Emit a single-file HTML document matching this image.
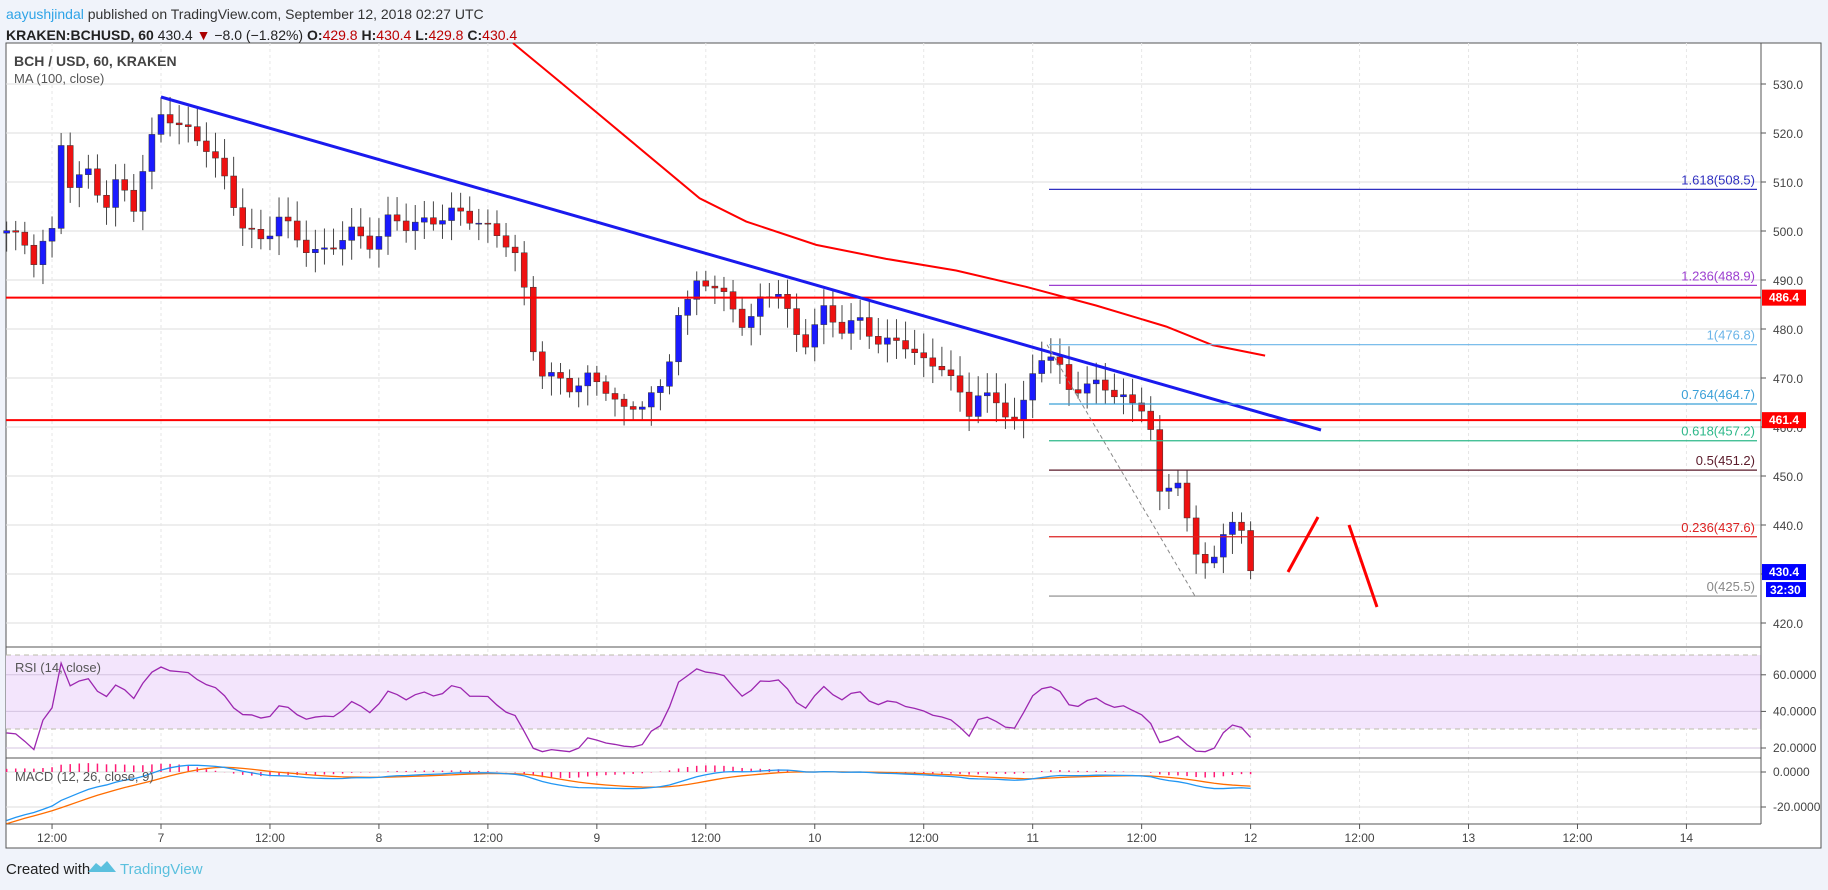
<!DOCTYPE html>
<html><head><meta charset="utf-8"><style>
html,body{margin:0;padding:0;background:#f0f3fa;}
body{width:1828px;height:885px;overflow:hidden;font-family:"Liberation Sans",sans-serif;}
svg text{font-family:"Liberation Sans",sans-serif;}
</style></head><body>
<svg id="s" width="1828" height="885" xmlns="http://www.w3.org/2000/svg">
<rect x="6" y="43" width="1815" height="805" fill="#fff" stroke="#555" stroke-width="1"/>
<text x="6" y="19" font-size="14"><tspan fill="#2fa4e7">aayushjindal</tspan><tspan fill="#333"> published on TradingView.com, September 12, 2018 02:27 UTC</tspan></text>
<text x="6" y="40" font-size="14" fill="#222"><tspan font-weight="bold">KRAKEN:BCHUSD, 60</tspan> 430.4 <tspan fill="#a00">▼</tspan> −8.0 (−1.82%) <tspan font-weight="bold">O:</tspan><tspan fill="#b00">429.8</tspan> <tspan font-weight="bold">H:</tspan><tspan fill="#b00">430.4</tspan> <tspan font-weight="bold">L:</tspan><tspan fill="#b00">429.8</tspan> <tspan font-weight="bold">C:</tspan><tspan fill="#b00">430.4</tspan></text>
<g id="g"></g>
<text x="14" y="66" font-size="14" fill="#444" font-weight="bold">BCH / USD, 60, KRAKEN</text>
<text x="14" y="83" font-size="13" fill="#555">MA (100, close)</text>
<text x="15" y="672" font-size="13" fill="#555">RSI (14, close)</text>
<text x="15" y="781" font-size="13" fill="#555">MACD (12, 26, close, 9)</text>
<text x="6" y="874" font-size="15" fill="#222">Created with</text>
<path d="M88 872 l8 -9 l5 4 l6 -6 l9 11 z" fill="#5bc0de"/>
<text x="120" y="874" font-size="15" fill="#5bc0de">TradingView</text>
</svg>
<script>
const S=document.getElementById('g');let h='';
const L=6,R=1761,T=43,MB=647;
const X=t=>161+(t-24)*9.08;
const Y=p=>84+(530-p)*4.9;
const RY=r=>748-(r-20)*1.83;
const MY=m=>772-m*1.75;
for(let p=420;p<=530;p+=10){h+=`<line x1="${L}" x2="${R}" y1="${Y(p)}" y2="${Y(p)}" stroke="#ddd"/>`;
 h+=`<line x1="${R}" x2="${R+5}" y1="${Y(p)}" y2="${Y(p)}" stroke="#555"/><text x="${R+12}" y="${Y(p)+5}" font-size="12" fill="#444">${p}.0</text>`;}
const labs=['12:00','7','12:00','8','12:00','9','12:00','10','12:00','11','12:00','12','12:00','13','12:00','14'];
labs.forEach((l,i)=>{const x=X(12+i*12);h+=`<line x1="${x}" x2="${x}" y1="${T}" y2="824" stroke="#e6e6e6" stroke-dasharray="3,3"/><line x1="${x}" x2="${x}" y1="824" y2="829" stroke="#555"/><text x="${x}" y="842" font-size="12" fill="#444" text-anchor="middle">${l}</text>`;});
h+=`<rect x="${L}" y="655" width="${R-L}" height="74" fill="#f3e5fc"/>`;
h+=`<line x1="${L}" x2="${R}" y1="655" y2="655" stroke="#bba" stroke-dasharray="5,4"/><line x1="${L}" x2="${R}" y1="729" y2="729" stroke="#bba" stroke-dasharray="5,4"/>`;
[20,40,60].forEach(r=>{h+=`<line x1="${L}" x2="${R}" y1="${RY(r)}" y2="${RY(r)}" stroke="#d4c4e0"/><line x1="${R}" x2="${R+5}" y1="${RY(r)}" y2="${RY(r)}" stroke="#555"/><text x="${R+12}" y="${RY(r)+4}" font-size="12" fill="#444">${r}.0000</text>`;});
[0,-20].forEach(m=>{h+=`<line x1="${L}" x2="${R}" y1="${MY(m)}" y2="${MY(m)}" stroke="#ddd"/><line x1="${R}" x2="${R+5}" y1="${MY(m)}" y2="${MY(m)}" stroke="#555"/><text x="${R+12}" y="${MY(m)+4}" font-size="12" fill="#444">${m==0?'0.0000':'-20.0000'}</text>`;});
h+=`<line x1="${L}" x2="${R}" y1="${MB}" y2="${MB}" stroke="#555"/><line x1="${L}" x2="${R}" y1="758" y2="758" stroke="#555"/><line x1="${L}" x2="${R}" y1="824" y2="824" stroke="#555"/><line x1="${R}" x2="${R}" y1="${T}" y2="824" stroke="#555"/>`;
const kp=[[5,501],[20,497],[30,494],[40,500],[47,499],[52,518],[60,510],[75,512],[90,505],[100,510],[115,505],[125,515],[140,525],[150,522],[175,518],[190,512],[210,500],[225,498],[240,503],[260,497],[275,495],[300,500],[320,497],[335,503],[350,501],[370,502],[390,504],[410,502],[420,500],[440,497],[450,487],[460,472],[475,470],[490,468],[505,470],[520,468],[535,463],[550,465],[570,468],[580,483],[590,485],[600,491],[615,488],[630,484],[640,480],[655,487],[670,488],[680,479],[690,477],[705,484],[720,480],[735,482],[750,478],[765,477],[780,477],[795,472],[810,473],[820,468],[830,462],[840,468],[855,464],[870,462],[880,465],[890,475],[905,474],[915,468],[930,468],[945,469],[960,466],[975,464],[985,465],[992,445],[1000,447],[1010,450],[1018,441],[1025,433],[1035,433],[1045,435],[1055,440],[1065,440],[1072,431],[1082,430],[1088,430]].map(k=>[24+(k[0]*1.166-161)/9.08,k[1]]);
function ip(t){if(t<=kp[0][0])return kp[0][1];for(let i=1;i<kp.length;i++)if(t<=kp[i][0]){const a=kp[i-1],b=kp[i];return a[1]+(b[1]-a[1])*(t-a[0])/(b[0]-a[0]);}return kp[kp.length-1][1];}
const closes=[];const ts=[];
for(let t=-60;t<=144;t++){let c=t<7?501+(7-t)*0.5+Math.sin(t*0.9)*2.5:ip(t)+Math.sin(t*1.7)*1.2;closes.push(c);ts.push(t);}
for(let i=1;i<closes.length;i++){const t=ts[i],c=closes[i],o=closes[i-1];if(t<7){continue;}
 const x=X(t),up=c>=o,hi=Math.max(o,c)+1+Math.abs(Math.sin(t*3.1))*3,lo=Math.min(o,c)-1-Math.abs(Math.cos(t*2.3))*3;
 const col=up?'#1a1aff':'#ee1111';
 h+=`<line x1="${x}" x2="${x}" y1="${Y(hi)}" y2="${Y(lo)}" stroke="#444"/>`;
 const y1=Y(Math.max(o,c)),y2=Y(Math.min(o,c));
 h+=`<rect x="${x-3}" y="${y1}" width="6" height="${Math.max(1,y2-y1)}" fill="${col}" stroke="#333" stroke-width="0.5"/>`;}
let ag=0,al=0;const rsi=[];
for(let i=1;i<closes.length;i++){const d=closes[i]-closes[i-1];const g=Math.max(d,0),l=Math.max(-d,0);ag=(ag*13+g)/14;al=(al*13+l)/14;rsi.push([ts[i],al==0?50:100-100/(1+ag/al)]);}
let pts=rsi.filter(r=>r[0]>=7).map(r=>`${X(r[0])},${RY(Math.min(70,Math.max(18,r[1])))}`).join(' ');
h+=`<polyline points="${pts}" fill="none" stroke="#9c27b0" stroke-width="1.3"/>`;
let e12=closes[0],e26=closes[0],sg=0;const md=[];
const off=(t,a,w)=>-a*Math.pow(Math.max(0,1-(t-7)/w),1.5);
for(let i=0;i<closes.length;i++){e12+=(closes[i]-e12)*2/13;e26+=(closes[i]-e26)*2/27;const m=e12-e26;sg+=(m-sg)*0.2;md.push([ts[i],m+off(ts[i],24,20),sg+off(ts[i],26,24)]);}
let mp='',sp='';
md.filter(r=>r[0]>=7).forEach(r=>{const x=X(r[0]);mp+=`${x},${MY(r[1])} `;sp+=`${x},${MY(r[2])} `;const hv=(r[1]-r[2])*1.75;h+=`<line x1="${x}" x2="${x}" y1="772" y2="${772-hv}" stroke="#ff1a75" stroke-width="1.5"/>`;});
h+=`<polyline points="${sp}" fill="none" stroke="#ff6d00" stroke-width="1.3"/><polyline points="${mp}" fill="none" stroke="#2196f3" stroke-width="1.3"/>`;
const ma=[[440,37],[480,70],[540,120],[600,170],[640,190],[700,210],[760,222],[820,232],[880,246],[940,262],[1000,280],[1040,296],[1085,305]].map(p=>`${p[0]*1.166},${Math.max(43,p[1]*1.166)}`).join(' ');
h+=`<polyline points="${ma}" fill="none" stroke="#f00" stroke-width="2"/>`;
[486.4,461.4].forEach(p=>{h+=`<line x1="${L}" x2="${R}" y1="${Y(p)}" y2="${Y(p)}" stroke="#f00" stroke-width="2"/><rect x="${R+1}" y="${Y(p)-8}" width="44" height="16" fill="#f00"/><text x="${R+8}" y="${Y(p)+4}" font-size="12" fill="#fff" font-weight="bold">${p}</text>`;});
h+=`<line x1="161" y1="97" x2="1321" y2="430" stroke="#1a1aee" stroke-width="3"/>`;
const fib=[['1.618',508.5,'#3030c0'],['1.236',488.9,'#9c3fd0'],['1',476.8,'#6ab4e8'],['0.764',464.7,'#3aa0d8'],['0.618',457.2,'#2eb88a'],['0.5',451.2,'#5a1a2a'],['0.236',437.6,'#dd2222'],['0',425.5,'#888']];
fib.forEach(f=>{const y=Y(f[1]);h+=`<line x1="1049" x2="1757" y1="${y}" y2="${y}" stroke="${f[2]}" stroke-width="1.2"/><text x="1755" y="${y-5}" font-size="13" fill="${f[2]}" text-anchor="end">${f[0]}(${f[1]})</text>`;});
h+=`<line x1="1047" y1="${Y(476.8)}" x2="1195" y2="${Y(425.5)}" stroke="#888" stroke-dasharray="4,3"/>`;
h+=`<line x1="1288" y1="572" x2="1318" y2="517" stroke="#f00" stroke-width="3"/><line x1="1349" y1="525" x2="1377" y2="607" stroke="#f00" stroke-width="3"/>`;
h+=`<rect x="${R+1}" y="${Y(430.4)-8}" width="44" height="16" fill="#00f"/><text x="${R+8}" y="${Y(430.4)+4}" font-size="12" fill="#fff" font-weight="bold">430.4</text>`;
h+=`<rect x="${R+5}" y="${Y(430.4)+10}" width="40" height="15" fill="#00f"/><text x="${R+9}" y="${Y(430.4)+22}" font-size="12" fill="#fff" font-weight="bold">32:30</text>`;
S.innerHTML=h;
</script>
</body></html>
